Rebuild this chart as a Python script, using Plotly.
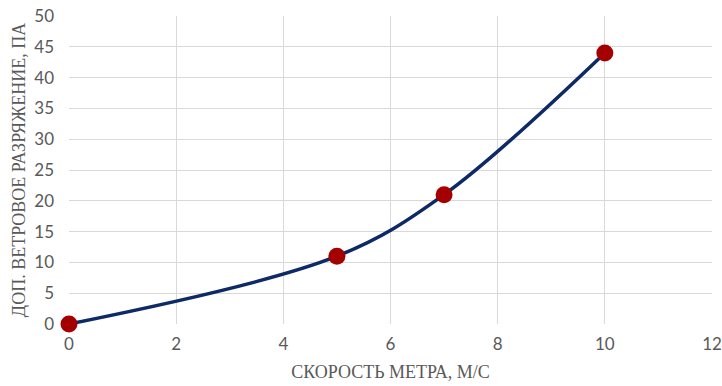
import plotly.graph_objects as go

speed = [0, 5, 7, 10]
pressure = [0, 11, 21, 44]
x_ticks = [0, 2, 4, 6, 8, 10, 12]
y_ticks = [0, 5, 10, 15, 20, 25, 30, 35, 40, 45, 50]

fig = go.Figure()
fig.add_trace(go.Scatter(
    x=speed, y=pressure, mode="lines+markers",
    line=dict(color="#0E2A66", width=3.5, shape="spline", smoothing=1.0),
    marker=dict(color="#A50000", size=17),
    cliponaxis=False,
    showlegend=False,
))

tick_font = dict(family="Lato, Carlito, sans-serif", size=17, color="#595959")
title_font = dict(family="Liberation Serif, Times New Roman, serif", size=18, color="#595959")

fig.update_layout(
    width=722, height=386,
    margin=dict(l=69, r=10, t=16, b=62, autoexpand=False),
    paper_bgcolor="white", plot_bgcolor="white",
    xaxis=dict(
        range=[0, 12], tickvals=x_ticks, showgrid=True, gridcolor="#D9D9D9", gridwidth=1,
        zeroline=False, showline=False, tickfont=tick_font, ticks="", ticklen=0,
        automargin=False, ticklabeloverflow="allow",
        title=dict(text="СКОРОСТЬ МЕТРА, М/С", font=title_font, standoff=12),
    ),
    yaxis=dict(
        range=[0, 50], tickvals=y_ticks, showgrid=True, gridcolor="#D9D9D9", gridwidth=1,
        zeroline=False, showline=False, tickfont=tick_font, ticks="", ticklen=0,
        automargin=False, ticklabeloverflow="allow",
        title=dict(text="ДОП. ВЕТРОВОЕ РАЗРЯЖЕНИЕ, ПА", font=title_font, standoff=3),
    ),
)
fig.update_xaxes(ticklabelstandoff=8)
fig.update_yaxes(ticklabelstandoff=14)
fig.write_html(
    "out.html",
    config={"displayModeBar": False},
    post_script="document.body.style.margin='0';document.body.style.overflow='hidden';",
)
